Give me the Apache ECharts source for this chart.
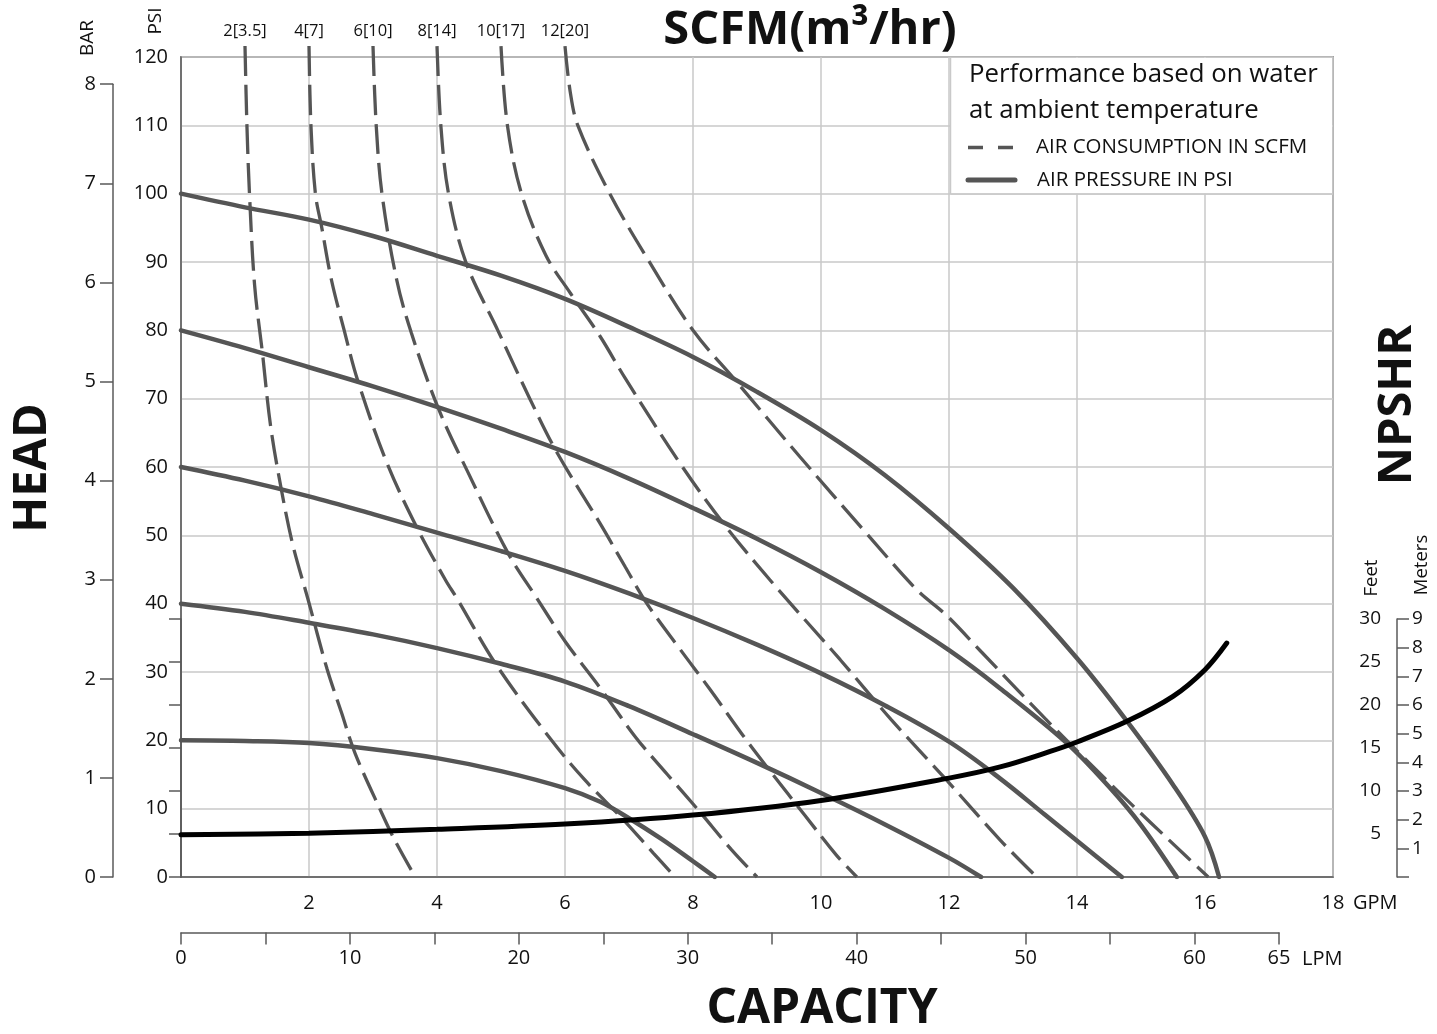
<!DOCTYPE html>
<html><head><meta charset="utf-8">
<script src="https://cdn.jsdelivr.net/npm/echarts/dist/echarts.min.js"></script>
<style>html,body{margin:0;padding:0;background:#fff}#c{width:1437px;height:1034px}</style>
</head><body><div id="c"></div>
<script>
// ---- data (GPM, PSI) ----
const psi20  = [[0,20],[1,19.9],[2,19.6],[3,18.7],[4,17.4],[5,15.5],[6,13],[6.55,11],[7,8.6],[7.5,5.6],[8,2.3],[8.34,0]];
const psi40  = [[0,40],[1,38.8],[2,37.2],[3,35.5],[4,33.5],[5,31.2],[6,28.6],[7,25],[8,20.9],[9,16.7],[10,12.3],[11,7.7],[12,2.8],[12.5,0]];
const psi60  = [[0,60],[1,58],[2,55.7],[3,53.1],[4,50.4],[5,47.7],[6,44.8],[7,41.5],[8,37.9],[9,34],[10,29.8],[11,25.1],[12,19.8],[12.8,14.4],[13.5,9.1],[14,5.3],[14.7,0]];
const psi80  = [[0,80],[1,77.4],[2,74.6],[3,71.8],[4,68.8],[5,65.6],[6,62.2],[7,58.3],[8,54],[9,49.5],[10,44.6],[11,39.2],[12,33.2],[12.8,27.6],[13.84,19.6],[14.5,13.2],[15,7.6],[15.56,0]];
const psi100 = [[0,100],[1,98],[2,96.2],[3,93.8],[4,90.9],[5,88],[6,84.6],[7,80.5],[8,76.1],[9,71],[10,65.4],[11,58.8],[12,51],[13,42.3],[14,32],[14.78,22.8],[15.5,13.5],[16,5.9],[16.22,0]];

const scfm2  = [[1.0,121.6],[1.03,110],[1.07,100],[1.15,86.6],[1.27,76.9],[1.4,66],[1.57,56.6],[1.75,48.5],[1.98,40.8],[2.28,30.5],[2.51,24],[2.72,18.1],[3.14,9.3],[3.34,5.4],[3.66,0]];
const scfm4  = [[2.0,121.6],[2.03,110],[2.1,100],[2.2,95],[2.35,87.4],[2.55,80],[2.76,72.7],[3.2,61],[3.65,51.8],[4.13,43.5],[4.31,40.8],[4.93,31],[5.79,20],[6.31,14.2],[6.9,8.5],[7.38,3.5],[7.72,0]];
const scfm6  = [[3.0,121.6],[3.05,110],[3.14,100],[3.37,87.4],[3.6,79.6],[4.02,68.6],[4.49,59.1],[5.11,47.4],[5.56,40.8],[6.0,34.5],[6.57,27.4],[7.1,20.5],[7.6,15],[8.1,9.6],[8.6,4],[9.0,0]];
const scfm8  = [[4.0,121.6],[4.06,110],[4.18,100],[4.45,90],[4.95,80],[5.45,70],[5.87,62.2],[6.55,51.7],[6.94,45.4],[7.28,40],[7.8,33.3],[8.27,27.4],[8.79,20.6],[9.23,15.2],[9.75,9],[10.24,3.2],[10.56,0]];
const scfm10 = [[5.0,121.6],[5.1,110],[5.32,100],[5.7,91],[6.08,85.5],[6.55,79.1],[6.94,73],[7.8,60.5],[8.47,51.8],[9.2,43.5],[10.3,31.8],[11.1,23],[11.96,14.2],[12.8,5.4],[13.37,0]];
const scfm12 = [[6.0,121.6],[6.08,115],[6.2,110],[6.7,100],[7.3,90.3],[8.0,80],[8.66,72.7],[9.67,61.5],[10.71,50.3],[11.5,42],[11.96,38.3],[12.5,33],[13.5,23.2],[14.59,13],[15.71,3],[16.05,0]];
const scfmLabels = ['2[3.5]','4[7]','6[10]','8[14]','10[17]','12[20]'];

// NPSHR (GPM, feet)
const npshr = [[0,4.9],[2,5.1],[4,5.55],[6,6.15],[8,7.2],[10,8.9],[12,11.5],[12.8,12.8],[13.58,14.6],[14,15.7],[14.78,18.1],[15.5,21],[16,24.1],[16.34,27.2]];

// axis ranges / ticks
const gpmMax = 18, gpmStep = 2;
const psiMax = 120, psiStep = 10;
const barMax = 8, lpmMax = 65, lpmStep = 5;
const feetMax = 30, feetStep = 5, metersMax = 9;

const FONT = '"Open Sans", "Noto Sans", sans-serif';
const GRAY = '#555555', AX = '#5a5a5a', GRID = '#c9c9c9', TXT = '#111';

const chart = echarts.init(document.getElementById('c'), null, {renderer:'canvas'});

function solid(data){
  return {type:'line', data, xAxisIndex:0, yAxisIndex:0, showSymbol:false, smooth:0.35,
    lineStyle:{color:GRAY, width:4.5, cap:'round'}, z:3, silent:true, animation:false};
}
function dashed(data, lab){
  const d = data.map((p,i)=> i===0 ? {value:p, label:{show:true, formatter:lab, position:'top', distance:6,
      fontFamily:FONT, fontSize:16.5, color:TXT}} : {value:p});
  return {type:'line', data:d, xAxisIndex:0, yAxisIndex:0, showSymbol:true, symbol:'circle', symbolSize:1,
    itemStyle:{color:'rgba(0,0,0,0)'}, label:{show:false}, smooth:0.35, clip:false,
    lineStyle:{color:GRAY, width:3.3, type:[30,9]}, z:2, silent:true, animation:false};
}
function txt(s, x, y, size, opt){
  opt = opt || {};
  return {type:'text', x, y, rotation: opt.rot || 0, z:100,
    style:{text:s, x:0, y:0, font:(opt.bold?'bold ':'') + size + 'px ' + FONT, fill:TXT,
      align:opt.align||'center', textAlign:opt.align||'center', verticalAlign:'middle', textVerticalAlign:'middle'}};
}

const option = {
  animation:false,
  backgroundColor:'#fff',
  textStyle:{fontFamily:FONT},
  grid:[
    {left:181, right:104, top:57, bottom:157, show:true, borderColor:AX, borderWidth:1.5, outerBoundsMode:'none'},
    {left:113, right:104, top:84.2, bottom:157, outerBoundsMode:'none'},
    {left:181, right:104, top:619, bottom:157, outerBoundsMode:'none'},
    {left:181, right:158, top:900, bottom:101.5, outerBoundsMode:'none'}
  ],
  xAxis:[
    {gridIndex:0, type:'value', min:0, max:gpmMax, interval:gpmStep,
     axisLine:{show:true, lineStyle:{color:AX, width:1.5}}, axisTick:{show:false},
     axisLabel:{margin:16, fontSize:20, color:TXT, fontFamily:FONT, formatter:v=> v===0 ? '' : String(v)},
     splitLine:{show:true, lineStyle:{color:GRID, width:1.5}}},
    {gridIndex:1, type:'value', min:0, max:gpmMax, show:false},
    {gridIndex:2, type:'value', min:0, max:gpmMax, show:false},
    {gridIndex:3, type:'value', min:0, max:lpmMax, interval:lpmStep,
     axisLine:{show:true, lineStyle:{color:AX, width:1.5}}, axisTick:{show:true, length:12, lineStyle:{color:AX, width:1.5}},
     axisLabel:{margin:16, fontSize:20, color:TXT, fontFamily:FONT, showMinLabel:true, showMaxLabel:true, hideOverlap:false,
       formatter:v=> (v%10===0 || v===lpmMax) ? String(v) : ''},
     splitLine:{show:false}}
  ],
  yAxis:[
    {gridIndex:0, type:'value', min:0, max:psiMax, interval:psiStep,
     axisLine:{show:true, lineStyle:{color:AX, width:1.5}}, axisTick:{show:false},
     axisLabel:{margin:13, fontSize:20, color:TXT, fontFamily:FONT},
     splitLine:{show:true, lineStyle:{color:GRID, width:1.5}}},
    {gridIndex:1, type:'value', min:0, max:barMax, interval:1, position:'left',
     axisLine:{show:true, lineStyle:{color:AX, width:1.5}}, axisTick:{show:true, length:13, lineStyle:{color:AX, width:1.5}},
     axisLabel:{margin:17, fontSize:20, color:TXT, fontFamily:FONT}, splitLine:{show:false}},
    {gridIndex:2, type:'value', min:0, max:feetMax, interval:feetStep, position:'right', offset:64,
     axisLine:{show:true, lineStyle:{color:AX, width:1.5}}, axisTick:{show:true, inside:true, length:12, lineStyle:{color:AX, width:1.5}},
     axisLabel:{inside:true, margin:16, fontSize:19, color:TXT, fontFamily:FONT, formatter:v=> v===0 ? '' : String(v)},
     splitLine:{show:false}},
    {gridIndex:2, type:'value', min:0, max:metersMax, interval:1, position:'right', offset:64,
     axisLine:{show:true, lineStyle:{color:AX, width:1.5}}, axisTick:{show:true, length:12, lineStyle:{color:AX, width:1.5}},
     axisLabel:{margin:15, fontSize:19, color:TXT, fontFamily:FONT, formatter:v=> v===0 ? '' : String(v)},
     splitLine:{show:false}},
    {gridIndex:3, type:'value', show:false}
  ],
  series:[
    dashed(scfm2, scfmLabels[0]), dashed(scfm4, scfmLabels[1]), dashed(scfm6, scfmLabels[2]),
    dashed(scfm8, scfmLabels[3]), dashed(scfm10, scfmLabels[4]), dashed(scfm12, scfmLabels[5]),
    solid(psi20), solid(psi40), solid(psi60), solid(psi80), solid(psi100),
    {type:'line', data:npshr, xAxisIndex:2, yAxisIndex:2, showSymbol:false, smooth:0.35, clip:false,
     lineStyle:{color:'#000', width:5, cap:'round'}, z:4, silent:true, animation:false}
  ],
  graphic:[
    // legend box
    {type:'rect', z:1, shape:{x:950.5, y:57.8, width:381.7, height:135.4}, style:{fill:'#fff', stroke:null}},
    {type:'line', z:1, shape:{x1:950.5, y1:57, x2:950.5, y2:194}, style:{stroke:GRID, lineWidth:1.5}},
    {type:'line', z:1, shape:{x1:950.5, y1:194, x2:1333, y2:194}, style:{stroke:GRID, lineWidth:1.5}},
    {type:'line', z:1, shape:{x1:968, y1:147.5, x2:1014, y2:147.5}, style:{stroke:GRAY, lineWidth:3.5, lineDash:[15,15]}},
    {type:'line', z:1, shape:{x1:968, y1:180, x2:1015, y2:180}, style:{stroke:GRAY, lineWidth:5, lineCap:'round'}},
    txt('Performance based on water', 969, 75, 25.8, {align:'left'}),
    txt('at ambient temperature', 969, 111, 25.8, {align:'left'}),
    txt('AIR CONSUMPTION IN SCFM', 1036, 147, 20.5, {align:'left'}),
    txt('AIR PRESSURE IN PSI', 1037, 180, 20.5, {align:'left'}),
    // titles
    txt('SCFM(m³/hr)', 810, 31, 47, {bold:true}),
    txt('HEAD', 33, 468, 47, {bold:true, rot:Math.PI/2}),
    txt('NPSHR', 1398, 405, 47, {bold:true, rot:Math.PI/2}),
    txt('CAPACITY', 822, 1009, 48, {bold:true}),
    txt('BAR', 88, 38, 19, {rot:Math.PI/2}),
    txt('PSI', 156, 21, 19, {rot:Math.PI/2}),
    txt('Feet', 1372, 578, 18.5, {rot:Math.PI/2}),
    txt('Meters', 1422, 565, 18.5, {rot:Math.PI/2}),
    txt('GPM', 1353, 903, 20, {align:'left'}),
    txt('LPM', 1302, 959, 20, {align:'left'})
  ]
};
chart.setOption(option);
</script></body></html>
